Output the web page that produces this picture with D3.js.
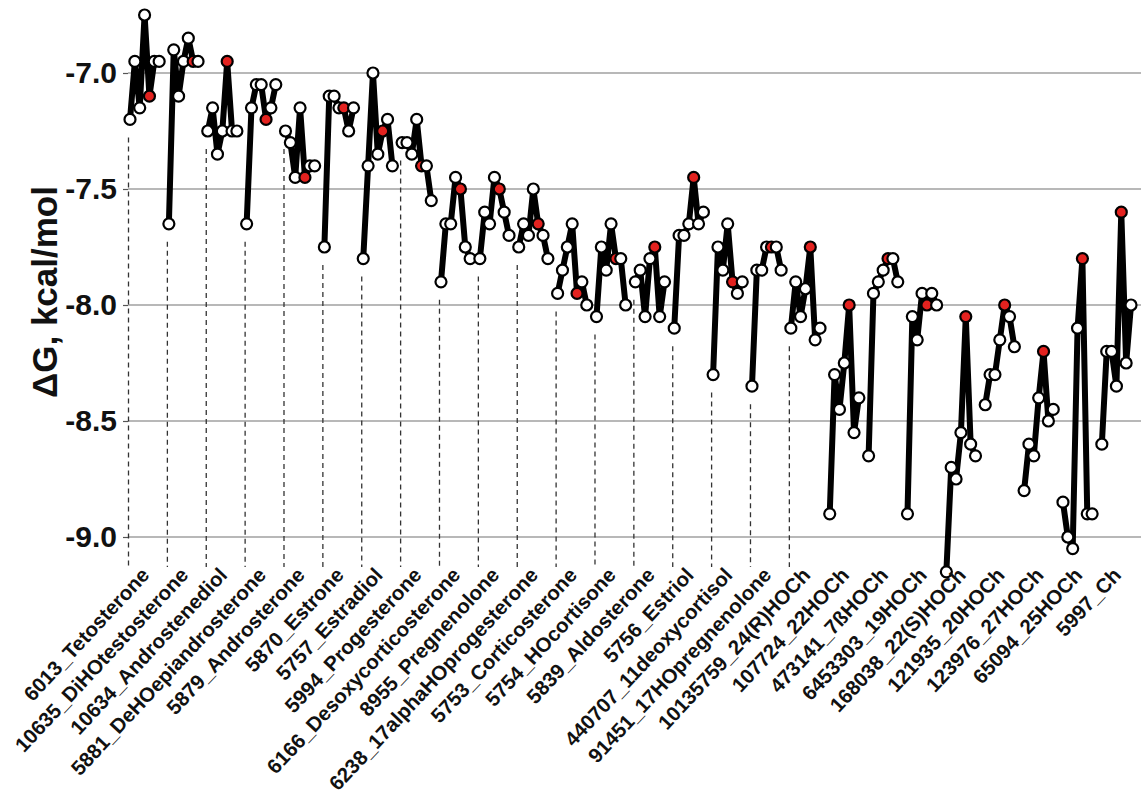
<!DOCTYPE html>
<html>
<head>
<meta charset="utf-8">
<script src="https://cdn.jsdelivr.net/npm/d3@7"></script>
<style>
  html, body { margin: 0; padding: 0; background: #fff; }
  svg { display: block; }
  text { font-family: Arial, "Liberation Sans", Helvetica, sans-serif; font-weight: bold; fill: #111; }
</style>
</head>
<body>
<svg id="chart" width="1141" height="803"></svg>
<script>
// ---- data ----
const categories = [
  "6013_Tetosterone","10635_DiHOtestosterone","10634_Androstenediol","5881_DeHOepiandrosterone",
  "5879_Androsterone","5870_Estrone","5757_Estradiol","5994_Progesterone",
  "6166_Desoxycorticosterone","8955_Pregnenolone","6238_17alphaHOprogesterone","5753_Corticosterone",
  "5754_HOcortisone","5839_Aldosterone","5756_Estriol","440707_11deoxycortisol",
  "91451_17HOpregnenolone","10135759_24(R)HOCh","107724_22HOCh","473141_7ßHOCh",
  "6453303_19HOCh","168038_22(S)HOCh","121935_20HOCh","123976_27HOCh",
  "65094_25HOCh","5997_Ch"
];
const values = [
  [-7.20, -6.95, -7.15, -6.75, -7.10, -6.95, -6.95],
  [-7.65, -6.90, -7.10, -6.95, -6.85, -6.95, -6.95],
  [-7.25, -7.15, -7.35, -7.25, -6.95, -7.25, -7.25],
  [-7.65, -7.15, -7.05, -7.05, -7.20, -7.15, -7.05],
  [-7.25, -7.30, -7.45, -7.15, -7.45, -7.40, -7.40],
  [-7.75, -7.10, -7.10, -7.15, -7.15, -7.25, -7.15],
  [-7.80, -7.40, -7.00, -7.35, -7.25, -7.20, -7.40],
  [-7.30, -7.30, -7.35, -7.20, -7.40, -7.40, -7.55],
  [-7.90, -7.65, -7.65, -7.45, -7.50, -7.75, -7.80],
  [-7.80, -7.60, -7.65, -7.45, -7.50, -7.60, -7.70],
  [-7.75, -7.65, -7.70, -7.50, -7.65, -7.70, -7.80],
  [-7.95, -7.85, -7.75, -7.65, -7.95, -7.90, -8.00],
  [-8.05, -7.75, -7.85, -7.65, -7.80, -7.80, -8.00],
  [-7.90, -7.85, -8.05, -7.80, -7.75, -8.05, -7.90],
  [-8.10, -7.70, -7.70, -7.65, -7.45, -7.65, -7.60],
  [-8.30, -7.75, -7.85, -7.65, -7.90, -7.95, -7.90],
  [-8.35, -7.85, -7.85, -7.75, -7.75, -7.75, -7.85],
  [-8.10, -7.90, -8.05, -7.93, -7.75, -8.15, -8.10],
  [-8.90, -8.30, -8.45, -8.25, -8.00, -8.55, -8.40],
  [-8.65, -7.95, -7.90, -7.85, -7.80, -7.80, -7.90],
  [-8.90, -8.05, -8.15, -7.95, -8.00, -7.95, -8.00],
  [-9.15, -8.70, -8.75, -8.55, -8.05, -8.60, -8.65],
  [-8.43, -8.30, -8.30, -8.15, -8.00, -8.05, -8.18],
  [-8.80, -8.60, -8.65, -8.40, -8.20, -8.50, -8.45],
  [-8.85, -9.00, -9.05, -8.10, -7.80, -8.90, -8.90],
  [-8.60, -8.20, -8.20, -8.35, -7.60, -8.25, -8.00]
];
// index (within each group) of the highlighted (red) point
const redIndex = [4,5,4,4,4,4,4,4,4,4,4,4,4,4,4,4,4,4,4,4,4,4,4,4,4,4];
// number of leading groups that carry a dashed guide line
const dashedGroups = 18;
const yTicks = [-7.0, -7.5, -8.0, -8.5, -9.0];
const yTitle = "\u0394G, kcal/mol";

// ---- layout ----
const W = 1141, H = 803;
const slotsPerGroup = 8;           // 7 points + 1 gap
const nSlots = (categories.length - 1) * slotsPerGroup + 6;
const x = d3.scaleLinear().domain([0, nSlots]).range([130, 1131]);
const y = d3.scaleLinear().domain([-7.0, -9.0]).range([73, 537]);
const plotLeft = 128, plotRight = 1141, plotBottom = 567;

const svg = d3.select("#chart");
svg.append("rect").attr("width", W).attr("height", H).attr("fill", "#fff");

// gridlines
svg.append("g").selectAll("line").data(yTicks).join("line")
  .attr("x1", plotLeft).attr("x2", plotRight)
  .attr("y1", d => y(d)).attr("y2", d => y(d))
  .attr("stroke", "#a0a0a0").attr("stroke-width", 1.5);

// y axis
const yAxis = d3.axisLeft(y).tickValues(yTicks).tickSize(5).tickPadding(6)
  .tickFormat(d => d.toFixed(1));
const ga = svg.append("g").attr("transform", `translate(${plotLeft},0)`).call(yAxis);
ga.select(".domain").remove();
ga.selectAll(".tick line").attr("stroke", "#555").attr("stroke-width", 1.2);
ga.selectAll(".tick text").attr("font-size", 30).attr("font-weight", "bold")
  .attr("font-family", "Arial, 'Liberation Sans', sans-serif").attr("fill", "#111");

// y title
svg.append("text")
  .attr("transform", `translate(57,292) rotate(-90)`)
  .attr("text-anchor", "middle")
  .attr("font-size", 35)
  .text(yTitle);

// data
const groups = values.map((vals, g) => vals.map((v, i) => ({
  g, i, v, idx: g * slotsPerGroup + i, red: i === redIndex[g]
})));

// dashed guide lines
svg.append("g").selectAll("line").data(groups.slice(0, dashedGroups)).join("line")
  .attr("x1", d => x(d[0].idx) - 1.5).attr("x2", d => x(d[0].idx) - 1.5)
  .attr("y1", d => y(d[0].v) + 18).attr("y2", plotBottom)
  .attr("stroke", "#333").attr("stroke-width", 1.3).attr("stroke-dasharray", "5,4");

// lines
const line = d3.line().x(d => x(d.idx)).y(d => y(d.v));
svg.append("g").selectAll("path").data(groups).join("path")
  .attr("d", line).attr("fill", "none").attr("stroke", "#000")
  .attr("stroke-width", 6).attr("stroke-linejoin", "round");

// points
svg.append("g").selectAll("circle").data(groups.flat()).join("circle")
  .attr("cx", d => x(d.idx)).attr("cy", d => y(d.v)).attr("r", 5.5)
  .attr("fill", d => d.red ? "#e3221f" : "#fff")
  .attr("stroke", "#000").attr("stroke-width", 2.2);

// category labels
svg.append("g").selectAll("text").data(categories).join("text")
  .attr("transform", (d, g) => `translate(${x(g * slotsPerGroup + 3) + 6},576) rotate(-47)`)
  .attr("text-anchor", "end")
  .attr("font-size", 20.5)
  .text(d => d);
</script>
</body>
</html>
